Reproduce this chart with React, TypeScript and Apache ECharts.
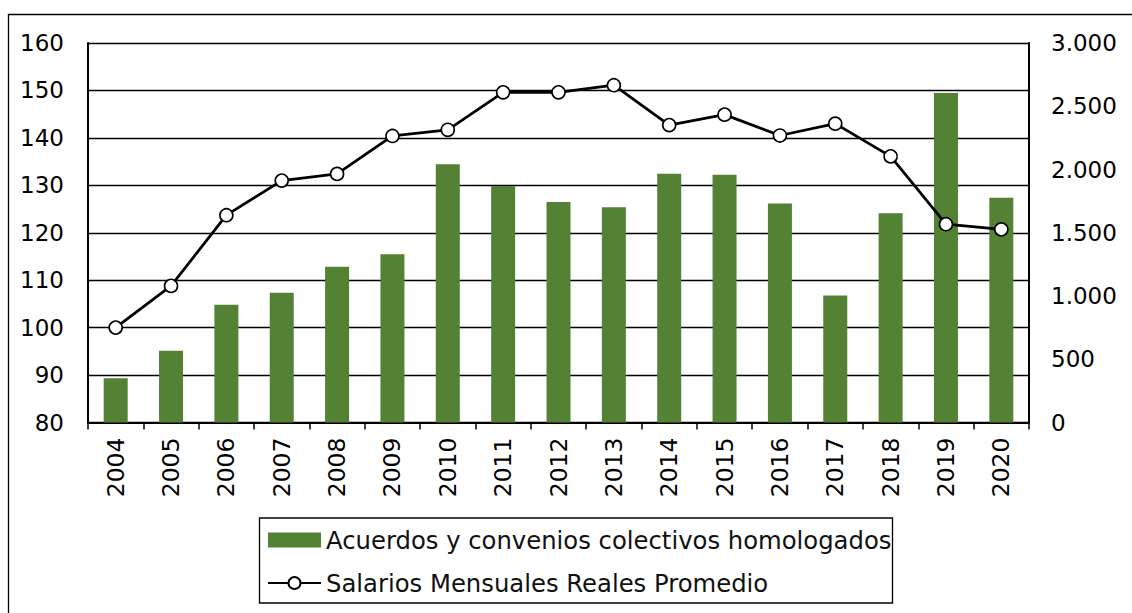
import React, { useEffect, useRef } from "react";
import * as echarts from "echarts";

const years = ["2004","2005","2006","2007","2008","2009","2010","2011","2012","2013","2014","2015","2016","2017","2018","2019","2020"];
const acuerdos = [350, 568, 931, 1026, 1232, 1330, 2041, 1869, 1744, 1702, 1966, 1958, 1731, 1004, 1655, 2604, 1776];
const salarios = [100, 108.8, 123.7, 131.0, 132.4, 140.4, 141.7, 149.6, 149.6, 151.1, 142.7, 144.9, 140.5, 143.0, 136.1, 121.8, 120.7];
const barName = "Acuerdos y convenios colectivos homologados";
const lineName = "Salarios Mensuales Reales Promedio";

const FONT = "DejaVu Sans";

function fmtThousands(v: number): string {
  return String(Math.round(v)).replace(/\B(?=(\d{3})+(?!\d))/g, ".");
}

export default function App() {
  const ref = useRef<HTMLDivElement>(null);
  useEffect(() => {
    if (!ref.current) return;
    const chart = echarts.init(ref.current, null, { renderer: "svg" });
    chart.setOption({
      animation: false,
      backgroundColor: "#ffffff",
      textStyle: { fontFamily: FONT, color: "#000" },
      grid: { left: 88, right: 103, top: 43, bottom: 190.5, containLabel: false },
      legend: {
        orient: "vertical",
        left: 259,
        top: 518,
        padding: [10, 0, 0, 8],
        itemGap: 19,
        itemWidth: 53,
        itemHeight: 15,
        textStyle: { fontFamily: FONT, fontSize: 24.3, color: "#111" },
        data: [
          { name: barName, icon: "rect" },
          { name: lineName },
        ],
      },
      xAxis: {
        type: "category",
        data: years,
        boundaryGap: true,
        axisLine: { show: true, lineStyle: { color: "#000", width: 2 } },
        axisTick: { show: true, length: 7, lineStyle: { color: "#000", width: 1.5 } },
        axisLabel: { rotate: 90, margin: 15, fontSize: 23.5, color: "#000", fontFamily: FONT },
        splitLine: { show: false },
      },
      yAxis: [
        {
          type: "value",
          min: 80,
          max: 160,
          interval: 10,
          position: "left",
          axisLine: { show: true, lineStyle: { color: "#000", width: 2 } },
          axisTick: { show: false },
          axisLabel: { margin: 24, fontSize: 23, color: "#000", fontFamily: FONT },
          splitLine: { show: true, lineStyle: { color: "#000", width: 1.3 } },
        },
        {
          type: "value",
          min: 0,
          max: 3000,
          interval: 500,
          position: "right",
          axisLine: { show: true, lineStyle: { color: "#000", width: 2 } },
          axisTick: { show: false },
          axisLabel: { margin: 22, fontSize: 23, color: "#000", fontFamily: FONT, formatter: (v: number) => fmtThousands(v) },
          splitLine: { show: false },
        },
      ],
      series: [
        {
          name: barName,
          type: "bar",
          yAxisIndex: 1,
          data: acuerdos,
          barWidth: 24,
          itemStyle: { color: "#548235" },
          z: 2,
        },
        {
          name: lineName,
          type: "line",
          yAxisIndex: 0,
          data: salarios,
          symbol: "circle",
          symbolSize: 13,
          lineStyle: { color: "#000", width: 2.75 },
          itemStyle: { color: "#fff", borderColor: "#000", borderWidth: 1.6 },
          z: 3,
        },
      ],
      graphic: [
        {
          type: "rect",
          shape: { x: 8.5, y: 14.5, width: 1200, height: 700 },
          style: { fill: "none", stroke: "#000", lineWidth: 1.3 },
          silent: true,
        },
        {
          type: "rect",
          shape: { x: 259.5, y: 518, width: 633, height: 85 },
          style: { fill: "none", stroke: "#000", lineWidth: 1.3 },
          silent: true,
        },
      ],
    });
    return () => chart.dispose();
  }, []);
  return (
    <div
      ref={ref}
      style={{ position: "absolute", left: 0, top: 0, width: 1132, height: 613, background: "#fff" }}
    />
  );
}
